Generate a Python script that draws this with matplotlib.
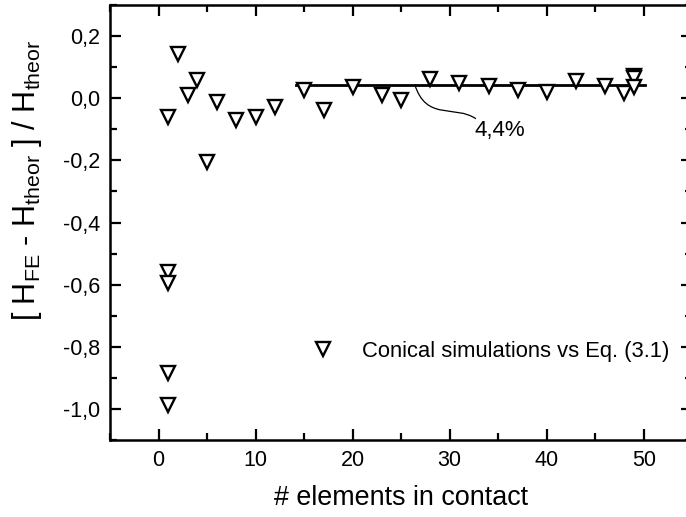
import matplotlib
matplotlib.use("Agg")
import matplotlib.pyplot as plt
from matplotlib.path import Path
from matplotlib.patches import PathPatch
from matplotlib.ticker import MultipleLocator, FuncFormatter

plt.rcParams['font.family'] = ['Liberation Sans', 'DejaVu Sans']
plt.rcParams['mathtext.fontset'] = 'custom'
plt.rcParams['mathtext.rm'] = 'Liberation Sans'
plt.rcParams['mathtext.it'] = 'Liberation Sans'

# conical simulations vs Eq. (3.1)
elements = [1, 1, 1, 1, 1, 2, 3, 4, 5, 6, 8, 10, 12,
            15, 17, 20, 23, 25, 28, 31, 34, 37, 40, 43, 46, 48, 49, 49, 49]
rel_error = [-0.061, -0.558, -0.595, -0.884, -0.988, 0.143, 0.011, 0.060, -0.206,
             -0.013, -0.069, -0.061, -0.027,
             0.027, -0.037, 0.035, 0.009, -0.005, 0.063, 0.050, 0.038, 0.027,
             0.019, 0.057, 0.039, 0.017, 0.070, 0.065, 0.035]

# mean level fit
fit_x = [14.2, 50.1]
fit_y = [0.044, 0.044]
fit_label = "4,4%"

fig = plt.figure(figsize=(6.86, 5.17), dpi=100)
ax = fig.add_axes([0.1603, 0.1489, 0.849, 0.8414])

ax.plot(fit_x, fit_y, color='black', lw=2.0, zorder=2)
ax.plot(elements, rel_error, linestyle='none', marker='v', ms=9.5,
        mfc='white', mec='black', mew=1.7, zorder=3,
        label='Conical simulations vs Eq. (3.1)')

# s-shaped leader from the fit line to the label
verts = [(26.4, 0.044), (27.6, -0.075), (30.5, -0.02), (32.7, -0.066)]
codes = [Path.MOVETO, Path.CURVE4, Path.CURVE4, Path.CURVE4]
ax.add_patch(PathPatch(Path(verts, codes), fill=False, lw=0.9, color='black'))
ax.text(32.6, -0.104, fit_label, fontsize=16, va='center', ha='left')

ax.set_xlim(-5, 55)
ax.set_ylim(-1.1, 0.3)
ax.xaxis.set_major_locator(MultipleLocator(10))
ax.xaxis.set_minor_locator(MultipleLocator(5))
ax.yaxis.set_major_locator(MultipleLocator(0.2))
ax.yaxis.set_minor_locator(MultipleLocator(0.1))
ax.yaxis.set_major_formatter(FuncFormatter(lambda v, p: ('%.1f' % v).replace('.', ',').replace('-0,0', '0,0')))

ax.tick_params(which='both', direction='in', top=True, right=True, width=1.6)
ax.tick_params(which='major', length=8, labelsize=15.5, pad=7)
ax.tick_params(which='minor', length=5)
for s in ax.spines.values():
    s.set_linewidth(1.8)

ax.set_xlabel('# elements in contact', fontsize=19.4, va='top')
ax.xaxis.set_label_coords(0.5, -0.103)
fig.text(27 / 686, 1 - 180 / 517,
         r'[ H$_{\rm FE}$ - H$_{\rm theor}$ ] / H$_{\rm theor}$',
         fontsize=22, rotation=90, ha='center', va='center')

ax.legend(loc='center right', bbox_to_anchor=(0.961, 0.2046), frameon=False,
          fontsize=15.8, handlelength=1.0, handletextpad=1.3,
          borderpad=0, borderaxespad=0)

fig.savefig('out.png', dpi=100)
